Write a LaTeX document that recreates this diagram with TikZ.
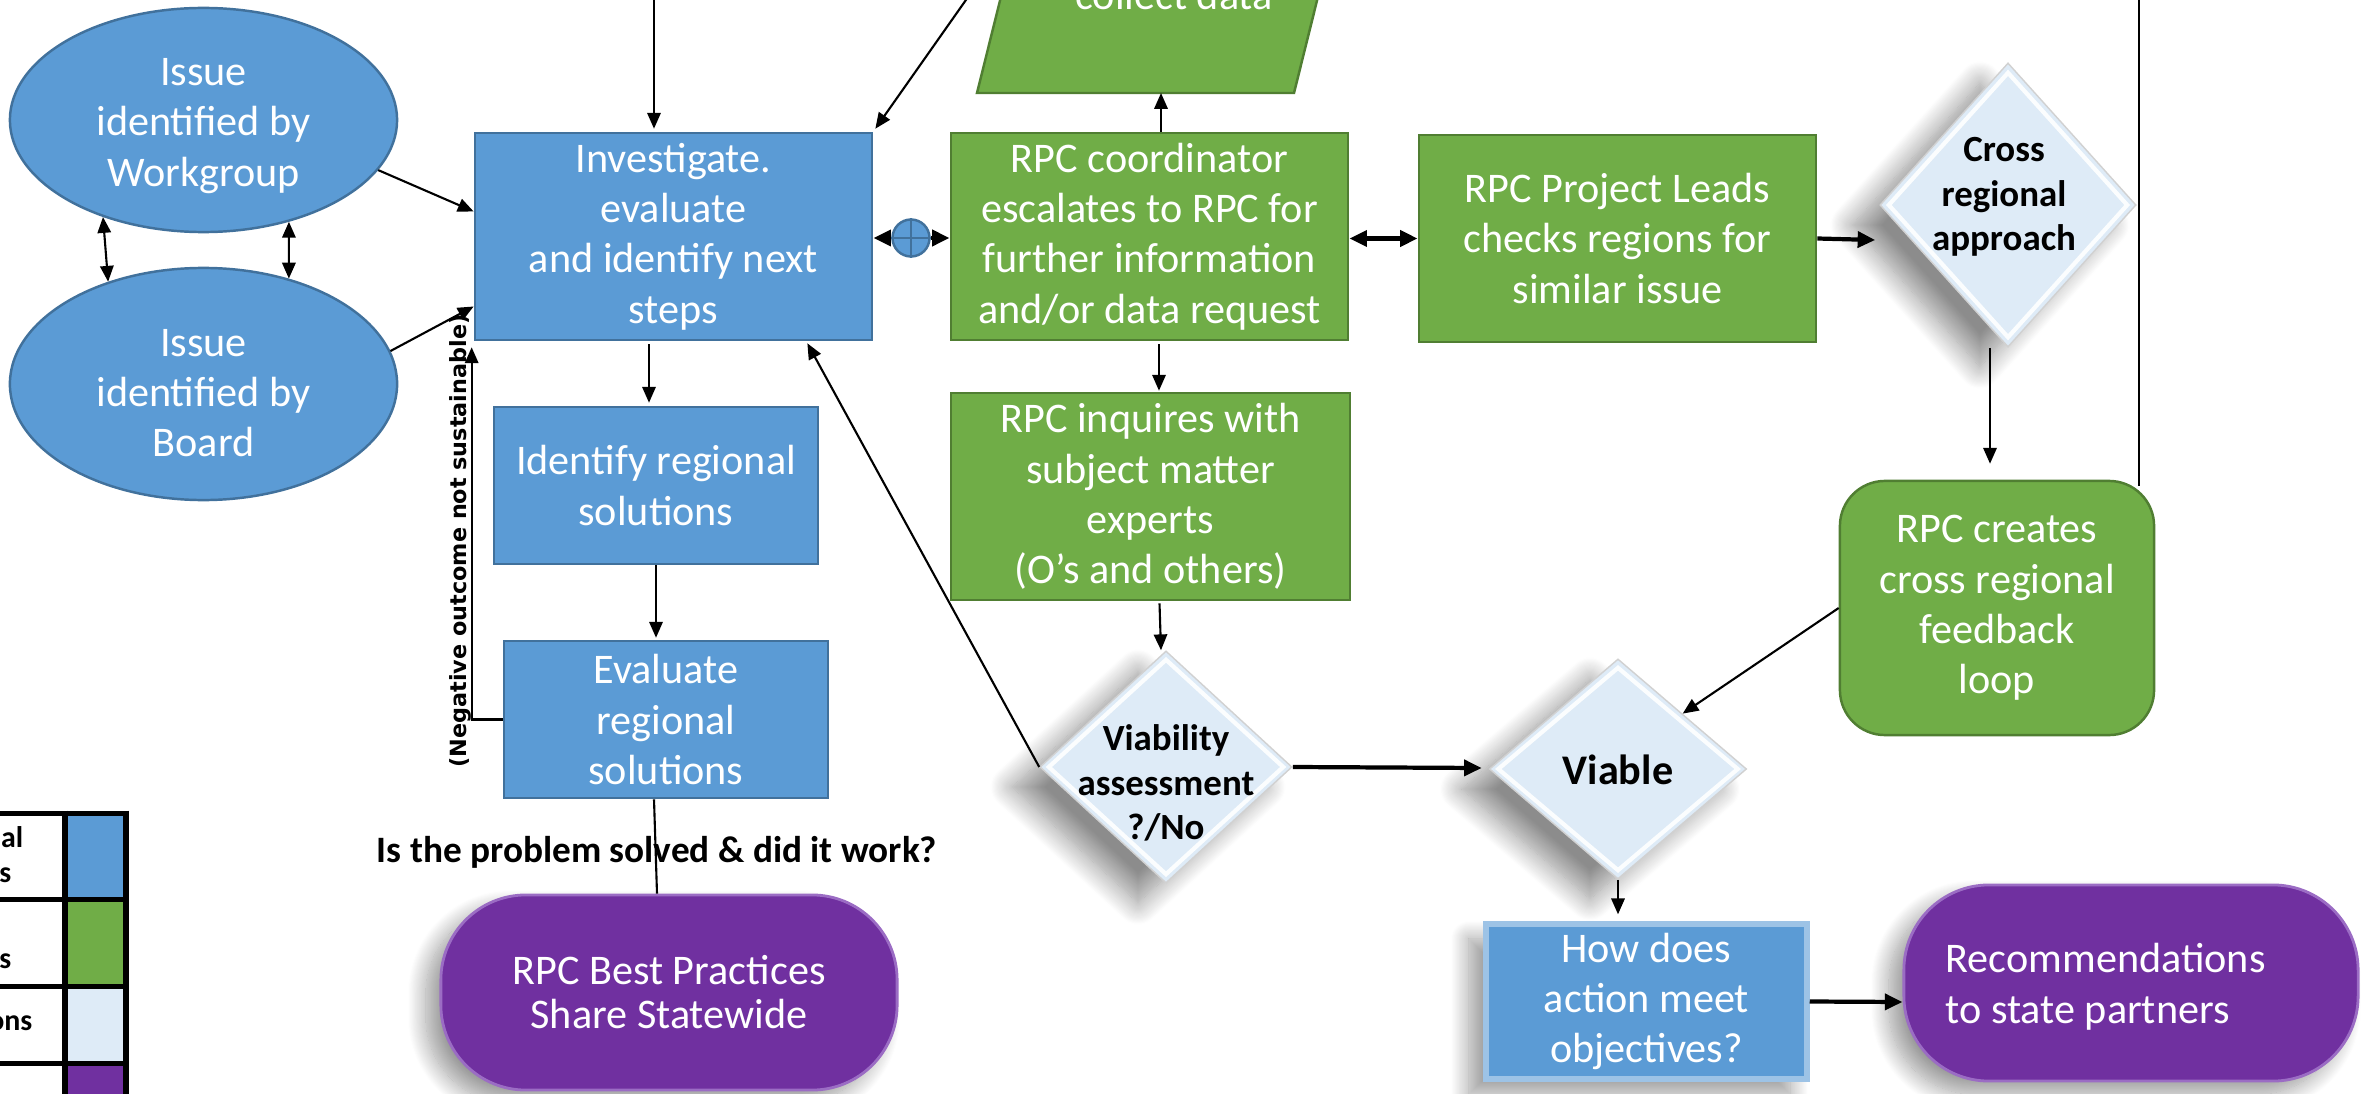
\documentclass[tikz,border=0pt]{standalone}
\usepackage{fontspec}
\setmainfont{Carlito}
\newfontfamily\negfont{DejaVu Sans}
\usetikzlibrary{shapes.geometric,arrows.meta,shadows.blur}
\definecolor{bfill}{HTML}{5B9BD5}
\definecolor{bline}{HTML}{41719C}
\definecolor{gfill}{HTML}{70AD47}
\definecolor{gline}{HTML}{507E32}
\definecolor{lfill}{HTML}{DEEBF7}
\definecolor{pfill}{HTML}{7030A0}
\definecolor{pedge}{HTML}{9B6CC4}
\definecolor{hedge}{HTML}{9DC3E6}
\begin{document}
\begin{tikzpicture}[x=0.01cm, y=-0.01cm,
  mtxt/.style={text=white, font=\fontsize{12}{14.3}\selectfont, align=center},
  bbox/.style={rectangle, fill=bfill, draw=bline, line width=0.7pt, inner sep=1pt, mtxt},
  gbox/.style={rectangle, fill=gfill, draw=gline, line width=0.7pt, inner sep=1pt, mtxt},
  ell/.style={ellipse, fill=bfill, draw=bline, line width=0.7pt, inner sep=0pt},
  dia/.style={diamond, fill=lfill, draw=black!18, line width=0.4pt, inner sep=0pt,
     blur shadow={shadow xshift=-0.28cm, shadow yshift=-0.2cm, shadow blur radius=0.22cm, shadow blur steps=20, shadow opacity=45}},
  bev/.style={diamond, draw=white, line width=1.2pt, inner sep=0pt, opacity=0.9},
  dtxt/.style={font=\fontsize{10.5}{12.6}\selectfont\bfseries, align=center, text=black, inner sep=0pt},
  pill/.style={rectangle, fill=pfill, draw=pedge, line width=0.8pt, rounded corners=0.85cm, mtxt,
     blur shadow={shadow xshift=-0.15cm, shadow yshift=-0.13cm, shadow blur radius=0.18cm, shadow blur steps=20, shadow opacity=40}},
  lgt/.style={font=\fontsize{8.5}{10}\selectfont\bfseries, text=black, inner sep=0pt, anchor=base east},
  arr/.style={-{Triangle[length=4.5pt,width=3.8pt]}, line width=0.6pt},
  tarr/.style={-{Triangle[length=5pt,width=4.5pt]}, line width=1.2pt},
  darr/.style={{Triangle[length=4.5pt,width=3.8pt]}-{Triangle[length=4.5pt,width=3.8pt]}, line width=0.6pt},
  tdarr/.style={{Triangle[length=5pt,width=4.5pt]}-{Triangle[length=5pt,width=4.5pt]}, line width=1.2pt}
]
\useasboundingbox (0,0) rectangle (2363,1094);
\clip (0,0) rectangle (2363,1094);

% ---------- shapes ----------
\node[ell, minimum width=3.87cm, minimum height=2.24cm] (ew) at (203.5,120) {};
\node[mtxt, inner sep=0pt] (ewt) at (203.5,126) {Issue\\identified by\\Workgroup};
\node[ell, minimum width=3.87cm, minimum height=2.32cm] (eb) at (203.5,384) {};
\node[mtxt, inner sep=0pt] (ebt) at (203.5,393) {Issue\\identified by\\Board};

\node[bbox, minimum width=3.97cm, minimum height=2.07cm] (inv) at (673.5,236.5) {Investigate.\\evaluate\\and identify next\\steps};
\node[bbox, minimum width=3.24cm, minimum height=1.57cm] (idr) at (656,485.5) {Identify regional\\solutions};
\node[bbox, minimum width=3.24cm, minimum height=1.57cm] (evr) at (666,719.5) {Evaluate\\regional\\solutions};
\node[pill, minimum width=4.56cm, minimum height=1.95cm, font=\fontsize{12}{12.5}\selectfont] (rbp) at (669,992.5) {RPC Best Practices\\Share Statewide};

\draw[fill=gfill, draw=gline, line width=0.7pt] (977,93) -- (1294,93) -- (1347,-120) -- (1030,-120) -- cycle;
\node[mtxt, anchor=base, inner sep=0pt] (cdt) at (1174,10) {collect data};
\coordinate (cdb) at (1161,93);

\node[gbox, minimum width=3.97cm, minimum height=2.07cm] (coord) at (1149.5,236.5) {RPC coordinator\\escalates to RPC for\\further information\\and/or data request};
\node[gbox, minimum width=3.97cm, minimum height=2.07cm] (pl) at (1617.5,238.5) {RPC Project Leads\\checks regions for\\similar issue};
\node[gbox, minimum width=3.99cm, minimum height=2.07cm] (inq) at (1150.5,496.5) {RPC inquires with\\subject matter\\experts\\(O’s and others)};
\node[gbox, rounded corners=0.45cm, minimum width=3.14cm, minimum height=2.54cm] (rcl) at (1997,608) {RPC creates\\cross regional\\feedback\\loop};

\node[dia, minimum width=2.56cm, minimum height=2.84cm] (cr) at (2008,205) {};
\node[bev, minimum width=2.40cm, minimum height=2.66cm] (crb) at (2008,205) {};
\node[dtxt] (crt) at (2004,197) {Cross\\regional\\approach};

\node[dia, minimum width=2.52cm, minimum height=2.32cm] (via) at (1166,767) {};
\node[bev, minimum width=2.36cm, minimum height=2.16cm] (viab) at (1166,767) {};
\node[dtxt] (viat) at (1166,783) {Viability\\assessment\\?/No};

\node[dia, minimum width=2.57cm, minimum height=2.20cm] (vb) at (1618,769) {};
\node[bev, minimum width=2.41cm, minimum height=2.04cm] (vbb) at (1618,769) {};
\node[dtxt, font=\fontsize{12}{14}\selectfont\bfseries] (vbt) at (1618,770) {Viable};

\node[bbox, draw=hedge, line width=1.5pt, minimum width=3.21cm, minimum height=1.55cm,
      blur shadow={shadow xshift=-0.17cm, shadow yshift=-0.15cm, shadow blur radius=0.18cm, shadow blur steps=20, shadow opacity=40}] (how) at (1646.5,1001.5) {How does\\action meet\\objectives?};

\node[pill, minimum width=4.54cm, minimum height=1.96cm] (rec) at (2131,983) {};
\node[mtxt, align=left, anchor=west, inner sep=0pt, font=\fontsize{12}{14.6}\selectfont] (rect) at (1945,987) {Recommendations\\to state partners};

% ---------- connectors ----------
\coordinate (tA) at (654,-20);
\coordinate (tB) at (980,-20);
\coordinate (tC) at (2139,-20);
\draw[arr] (tA) -- ([shift={(-19.5,-3)}]inv.north);
\draw[arr] (tB) -- ([shift={(2,-3)}]inv.north east);
\draw[line width=0.5pt] (tC) -- ([shift={(142,6)}]rcl.north);

\draw[darr] (ew.224) -- (eb.133);
\draw[darr] (ew.-50) -- (eb.51);
\draw[arr] (ew.-16) -- ([shift={(0,-25)}]inv.west);
\draw[arr] (eb.10) -- ([shift={(0,70)}]inv.west);

\node[circle, fill=bfill, draw=bline, line width=0.7pt, minimum size=0.37cm, inner sep=0pt] (pc) at (911,238) {};
\draw[bline, line width=0.7pt] (pc.north) -- (pc.south) (pc.west) -- (pc.east);
\draw[tarr] (pc.west) -- (inv.east |- pc.west);
\draw[tarr] (pc.east) -- (coord.west |- pc.east);

\draw[arr] ([shift={(11.5,0)}]coord.north) -- (cdb);
\draw[tdarr] (coord.east |- pl.west) -- (pl.west);
\draw[tarr] (pl.east) -- ([shift={(-4,35)}]cr.west);
\draw[arr] ([shift={(-18,0)}]cr.south) -- ([shift={(-7,-16)}]rcl.north);
\draw[arr] (rcl.west) -- (vb.north east);

\draw[arr] ([shift={(9.5,3)}]coord.south) -- ([shift={(8.5,-1)}]inq.north);
\draw[arr] ([shift={(9,2)}]inq.south) -- ([shift={(-5,0)}]via.north);
\draw[arr] (via.west) -- ([shift={(-66,2)}]inv.south east);
\draw[tarr] (via.east) -- ([shift={(-7,-1)}]vb.west);
\draw[arr] (vb.south) -- ([shift={(-28.5,-7)}]how.north);
\draw[tarr] (how.east) -- ([shift={(0,19)}]rec.west);

\draw[arr] ([shift={(-24.5,3)}]inv.south) -- ([shift={(-7,-3)}]idr.north);
\draw[arr] (idr.south) -- ([shift={(-10,-2)}]evr.north);
\draw[line width=0.6pt] ([shift={(-12,0)}]evr.south) -- ([shift={(-12,0)}]rbp.north);
\draw[arr] (evr.west) -| ([shift={(-2,6)}]inv.south west);

% ---------- free texts ----------
\node[font=\fontsize{10.6}{12}\selectfont\bfseries, inner sep=0pt] (isq) at (657,852) {Is the problem solved \& did it work?};
\node[font=\negfont\bfseries\fontsize{6.35}{7}\selectfont, rotate=90, inner sep=0pt] (neg) at (460,541) {(Negative outcome not sustainable)};

% ---------- legend ----------
\fill[bfill] (67,815) rectangle (124,897);
\fill[gfill] (67,901) rectangle (124,984);
\fill[lfill] (67,988) rectangle (124,1061);
\fill[pfill] (67,1065) rectangle (124,1100);
\foreach \yy in {813,899,986,1063} \draw[line width=0.05cm] (-5,\yy) -- (128.5,\yy);
\foreach \xx in {65,126} \draw[line width=0.05cm] (\xx,810.5) -- (\xx,1100);
\node[lgt] (lg1) at (24,847) {nal};
\node[lgt] (lg2) at (12,882) {s};
\node[lgt] (lg3) at (12,968) {s};
\node[lgt] (lg4) at (33,1030) {ons};
\end{tikzpicture}
\end{document}
